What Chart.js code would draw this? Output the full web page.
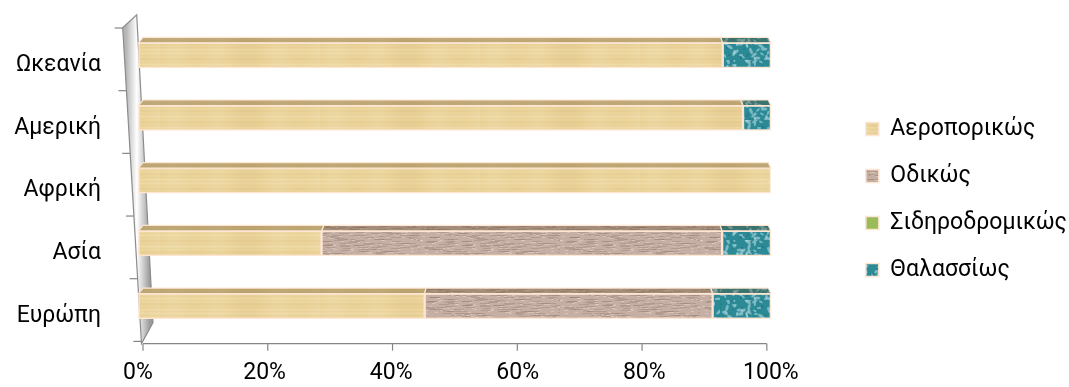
<!DOCTYPE html>
<html>
<head>
<meta charset="utf-8">
<script src="https://cdn.jsdelivr.net/npm/chart.js@4.4.1/dist/chart.umd.min.js"></script>
<style>
  html, body { margin: 0; padding: 0; background: #ffffff; }
  #wrap { width: 1069px; height: 387px; position: relative; }
</style>
</head>
<body>
<div id="wrap"><canvas id="chart" width="1069" height="387"></canvas></div>
<script>
// Regions (top to bottom) and transport-mode shares, in percent
const categories = ['Ωκεανία', 'Αμερική', 'Αφρική', 'Ασία', 'Ευρώπη'];
const seriesNames = ['Αεροπορικώς', 'Οδικώς', 'Σιδηροδρομικώς', 'Θαλασσίως'];
const airShare  = [92.4, 95.6, 100, 29.0, 45.3];
const roadShare = [0, 0, 0, 63.3, 45.5];
const railShare = [0, 0, 0, 0, 0];
const seaShare  = [7.6, 4.4, 0, 7.7, 9.2];
const percentStep = 20;

const FONT = 'Roboto';
const FONT_SIZE = 23;

// ---- surface textures -------------------------------------------------
function texture(w, h, paint) {
  const c = document.createElement('canvas');
  c.width = w; c.height = h;
  const g = c.getContext('2d');
  paint(g, w, h);
  return g.createPattern(c, 'repeat');
}

const woodFill = texture(160, 26, (g, w, h) => {
  g.fillStyle = '#ebd399'; g.fillRect(0, 0, w, h);
  for (let y = 0; y < h; y++) {
    const v = Math.sin(y * 1.7) * 0.5 + Math.sin(y * 0.55 + 1) * 0.5;
    g.fillStyle = v > 0 ? `rgba(255,246,218,${0.2 * v})` : `rgba(200,170,110,${-0.14 * v})`;
    g.fillRect(0, y, w, 1);
  }
  for (let x = 0; x < w; x++) {
    const v = Math.sin(x * 0.09) * Math.sin(x * 0.031 + 2);
    g.fillStyle = v > 0 ? `rgba(255,250,228,${0.16 * v})` : `rgba(205,175,115,${-0.12 * v})`;
    g.fillRect(x, 0, 1, h);
  }
});

const gravelFill = texture(140, 30, (g, w, h) => {
  g.fillStyle = '#c5aea3'; g.fillRect(0, 0, w, h);
  for (let i = 0; i < 300; i++) {
    const x = (i * 53 + (i * i) % 17) % w;
    const y = (i * 29 + (i * i) % 7) % h;
    const len = 3 + (i * 7) % 14;
    g.fillStyle = i % 2 ? 'rgba(145,120,110,0.35)' : 'rgba(232,220,212,0.45)';
    g.fillRect(x, y, len, 1);
  }
});

const waterFill = texture(90, 30, (g, w, h) => {
  g.fillStyle = '#2b8a96'; g.fillRect(0, 0, w, h);
  for (let i = 0; i < 120; i++) {
    const x = (i * 41 + (i * i) % 13) % w;
    const y = (i * 23 + (i * i) % 11) % h;
    const r = 0.5 + (i % 3) * 0.5;
    g.fillStyle = i % 3 === 0 ? 'rgba(22,95,108,0.6)' : 'rgba(205,232,238,0.5)';
    g.beginPath(); g.ellipse(x, y, r * 2.2, r, (i % 5) * 0.6, 0, Math.PI * 2); g.fill();
  }
});

const railFill = '#9bbb59';
const EDGE = '#fde6d3';

// ---- 3D look: back wall, floor and bar tops ----------------------------
const depthLook = {
  id: 'depthLook',
  beforeDatasetsDraw(chart) {
    const { ctx, chartArea: a } = chart;
    const L = a.left, T = a.top, B = a.bottom;
    const p = [[L - 15.3, T + 3.75], [L - 1.3, T - 9.25], [L + 15, B - 14.75], [L + 3.5, B + 6.25]];
    ctx.save();
    const grad = ctx.createLinearGradient(L - 12, 0, L + 12, 0);
    grad.addColorStop(0, '#b5b5b5');
    grad.addColorStop(0.45, '#ffffff');
    grad.addColorStop(1, '#9a9a9a');
    ctx.beginPath();
    ctx.moveTo(p[0][0], p[0][1]);
    for (let i = 1; i < 4; i++) ctx.lineTo(p[i][0], p[i][1]);
    ctx.closePath();
    ctx.fillStyle = grad; ctx.fill();
    ctx.strokeStyle = '#8c8c8c'; ctx.lineWidth = 1.2; ctx.stroke();

    // category dividers on the wall
    const n = categories.length;
    const slot = (B - T) / n;
    ctx.strokeStyle = '#868686'; ctx.lineWidth = 1.2;
    for (let i = 0; i <= n; i++) {
      const y = T + i * slot + 4;
      const t = (y - p[0][1]) / (p[3][1] - p[0][1]);
      const x = p[0][0] + t * (p[3][0] - p[0][0]);
      ctx.beginPath(); ctx.moveTo(x - 8, y); ctx.lineTo(x, y); ctx.stroke();
    }

    // floor front edge with percent ticks
    const xs = chart.scales.x;
    const fy = B + 6.25;
    const fx = v => L + 5 + (xs.getPixelForValue(v) - L) * ((a.right - L - 9) / (a.right - L));
    ctx.beginPath(); ctx.moveTo(fx(0), fy); ctx.lineTo(fx(100), fy); ctx.stroke();
    for (let v = 0; v <= 100; v += percentStep) {
      ctx.beginPath(); ctx.moveTo(fx(v), fy); ctx.lineTo(fx(v), fy + 7); ctx.stroke();
    }
    ctx.restore();
  },
  afterDatasetsDraw(chart) {
    const { ctx, chartArea: a } = chart;
    const L = a.left, R = a.right;
    const shift = px => 4.5 - 7 * (px - L) / (R - L);
    const depth = 5.5;
    ctx.save();
    chart.data.datasets.forEach((ds, di) => {
      const meta = chart.getDatasetMeta(di);
      if (meta.hidden) return;
      meta.data.forEach(bar => {
        const { x, y, base, height } = bar.getProps(['x', 'y', 'base', 'height'], true);
        if (Math.abs(x - base) < 0.5) return;
        const top = y - height / 2;
        ctx.beginPath();
        ctx.moveTo(base, top);
        ctx.lineTo(base + shift(base), top - depth);
        ctx.lineTo(x + shift(x), top - depth);
        ctx.lineTo(x, top);
        ctx.closePath();
        ctx.fillStyle = ds.backgroundColor; ctx.fill();
        ctx.fillStyle = 'rgba(95,70,35,0.32)'; ctx.fill();
        ctx.strokeStyle = EDGE; ctx.lineWidth = 1.2; ctx.stroke();
      });
    });
    ctx.restore();
  }
};

const shares = [airShare, roadShare, railShare, seaShare];
const fills = [woodFill, gravelFill, railFill, waterFill];

new Chart(document.getElementById('chart'), {
  type: 'bar',
  data: {
    labels: categories,
    datasets: seriesNames.map((name, i) => ({
      label: name,
      data: shares[i],
      backgroundColor: fills[i],
      borderColor: EDGE,
      borderWidth: 1.5,
      borderSkipped: false,
      barThickness: 25
    }))
  },
  options: {
    indexAxis: 'y',
    responsive: false,
    animation: false,
    layout: { padding: { top: 12, bottom: 0, left: 0, right: -8 } },
    scales: {
      x: {
        type: 'linear', min: 0, max: 100, stacked: true,
        grid: { display: true, drawOnChartArea: false, drawTicks: true, tickLength: 22, tickColor: 'rgba(0,0,0,0)' },
        border: { display: false },
        ticks: {
          stepSize: percentStep, padding: 0, color: '#000',
          font: { family: FONT, size: FONT_SIZE, lineHeight: 1.2 },
          callback: v => v + '%'
        }
      },
      headroom: {
        type: 'linear', position: 'top', display: true,
        grid: { display: false }, border: { display: false },
        ticks: { display: false, padding: 0 },
        afterFit(s) { s.height = 12; }
      },
      y: {
        type: 'category', stacked: true,
        grid: { display: true, drawOnChartArea: false, drawTicks: true, tickLength: 37, tickColor: 'rgba(0,0,0,0)' },
        border: { display: false },
        ticks: { padding: 0, labelOffset: 10, color: '#000', font: { family: FONT, size: FONT_SIZE } },
        afterFit(s) { s.width = 138; }
      },
      gap: {
        type: 'category', position: 'right', display: true,
        grid: { display: false }, border: { display: false },
        ticks: { display: false, padding: 0 },
        afterFit(s) { s.width = 71; }
      }
    },
    plugins: {
      legend: {
        position: 'right', align: 'center', maxWidth: 320,
        labels: {
          boxWidth: 13, boxHeight: 13, padding: 24, color: '#000',
          font: { family: FONT, size: FONT_SIZE }
        }
      },
      tooltip: { enabled: false }
    }
  },
  plugins: [depthLook]
});
</script>
</body>
</html>
